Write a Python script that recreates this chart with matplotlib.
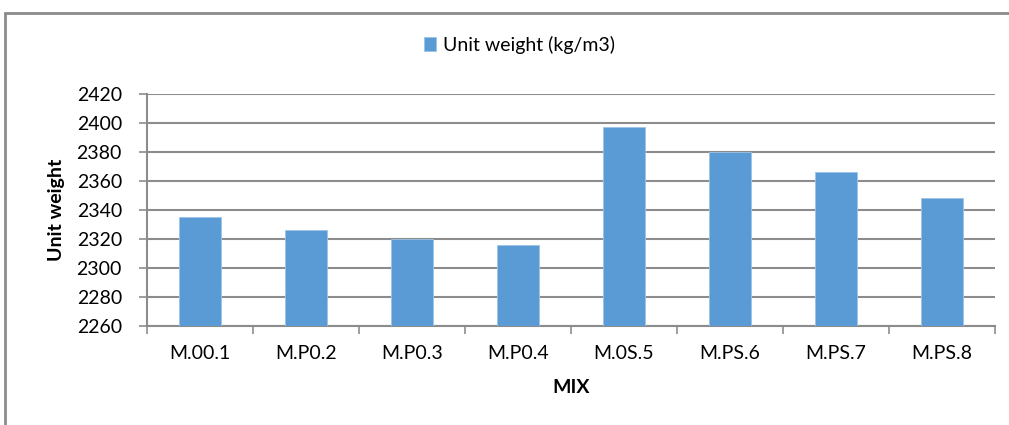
import matplotlib
matplotlib.use("Agg")
import matplotlib.pyplot as plt
from matplotlib.patches import Rectangle
import numpy as np

categories = ["M.00.1", "M.P0.2", "M.P0.3", "M.P0.4", "M.0S.5", "M.PS.6", "M.PS.7", "M.PS.8"]
unit_weight = [2335, 2326, 2320, 2316, 2397, 2380, 2366, 2348]
series_name = "Unit weight (kg/m3)"
y_ticks = [2260, 2280, 2300, 2320, 2340, 2360, 2380, 2400, 2420]

plt.rcParams['font.family'] = ['Lato', 'DejaVu Sans']

W, H = 1009, 425
fig = plt.figure(figsize=(W / 100, H / 100), dpi=100)
fig.patch.set_facecolor("white")

# outer chart frame
fig.patches.append(Rectangle((5 / W, -0.1), 1.2, 1 - 13 / H + 0.1, transform=fig.transFigure,
                             fill=False, edgecolor="#8c8c8c", linewidth=2.0))

left, right, top, bottom = 147, 995, 94, 326
ax = fig.add_axes([left / W, 1 - bottom / H, (right - left) / W, (bottom - top) / H])

x = np.arange(len(categories))
bar_color = "#5b9bd5"
ax.bar(x, unit_weight, width=0.4, color=bar_color, edgecolor="#9cc3e6", linewidth=0.6,
       label=series_name, zorder=3)

ax.set_xlim(-0.5, len(categories) - 0.5)
ax.set_ylim(y_ticks[0], y_ticks[-1])
ax.set_yticks(y_ticks)
ax.set_yticklabels([str(v) for v in y_ticks], fontsize=14)
ax.set_xticks(x)
ax.set_xticklabels(categories, fontsize=14)
ax.tick_params(axis="x", length=0, pad=14)
ax.set_xticks(np.arange(-0.5, len(categories)), minor=True)
ax.tick_params(axis="x", which="minor", length=6, width=1.2, color="#8c8c8c", direction="out")
ax.tick_params(axis="y", length=6, width=1.2, color="#8c8c8c", direction="out", pad=12)

ax.grid(axis="y", color="#8c8c8c", linewidth=1.5, zorder=0)
ax.set_axisbelow(True)
for s in ["top", "right"]:
    ax.spines[s].set_visible(False)
for s in ["left", "bottom"]:
    ax.spines[s].set_color("#8c8c8c")
    ax.spines[s].set_linewidth(1.5)

ax.set_ylabel("Unit weight", fontsize=14, fontweight="bold")
ax.yaxis.set_label_coords((65 - left) / (right - left), 0.5)
ax.set_xlabel("MIX", fontsize=14, fontweight="bold", labelpad=12)

fig.legend(loc="center", bbox_to_anchor=(0.515, 1 - 45 / H), frameon=False, fontsize=14,
           handlelength=0.6, handleheight=0.7, handletextpad=0.4)

fig.savefig("out.png", dpi=100, facecolor="white")
